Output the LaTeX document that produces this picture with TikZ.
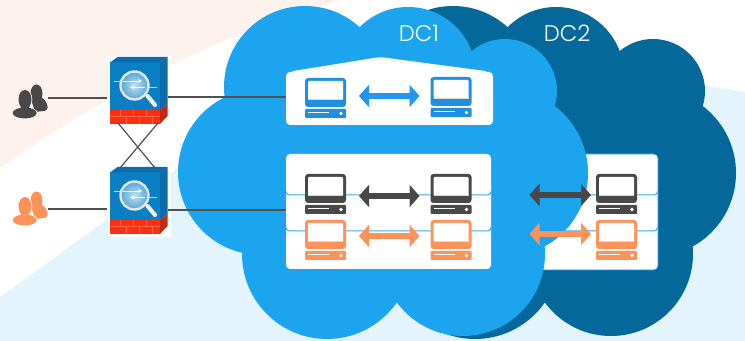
\documentclass[tikz,border=0pt]{standalone}
\usepackage{fontspec}
\setmainfont{Poppins Light}
\usepackage{tikz}
\usetikzlibrary{arrows.meta}
\usepackage{xcolor}

\definecolor{skyDC}{HTML}{1CA5EE}
\definecolor{deepDC}{HTML}{05689B}
\definecolor{paleBlue}{HTML}{E3F4FC}
\definecolor{palePink}{HTML}{FDF2EE}
\definecolor{stripe}{HTML}{3DA9E6}
\definecolor{inkBlue}{HTML}{1F8FE3}
\definecolor{arrowBlue}{HTML}{2196F3}
\definecolor{inkGray}{HTML}{484848}
\definecolor{inkOrange}{HTML}{FF9258}
\definecolor{wireGray}{HTML}{505050}
\definecolor{fwBlue}{HTML}{0A7FC4}
\definecolor{fwTop}{HTML}{0A6CAC}
\definecolor{fwRed}{HTML}{FA3010}
\definecolor{fwSide}{HTML}{C42A10}

\tikzset{
	panel/.style={fill=white,rounded corners=3pt,inner sep=0pt,outer sep=0pt},
	wire/.style={draw=wireGray,line width=0.9pt},
	dcarrow/.style={line width=5pt,{Triangle[width=16.5pt,length=7.5pt]}-{Triangle[width=16.5pt,length=7.5pt]},shorten <=9.75pt,shorten >=8.25pt},
	dclabel/.style={text=white,font=\fontsize{17}{17}\selectfont,inner sep=0pt},
	cloud/.pic={
		\foreach \cx/\cy/\r in {305/87/81,408/75/68,505/91/52,504/173/84,463/254/82,327/254/85,261/172/83}
		\fill[#1] (\cx,\cy) circle (\r);
		\fill[#1] (305,87) -- (408,75) -- (505,91) -- (504,173) -- (463,254) -- (327,254) -- (261,172) -- cycle;
	},
	computer/.pic={
		\node[inner sep=0pt,outer sep=0pt,minimum width=30.75pt,minimum height=30pt] (-body) at (0,20) {};
		\fill[#1,rounded corners=2.25pt] (-20.5,0) rectangle (20.5,29);
		\fill[white,rounded corners=0.75pt] (-17.5,3) rectangle (17.5,22);
		\fill[black!15] (-17.5,21) rectangle (17.5,22);
		\fill[#1,rounded corners=0.75pt] (-20.5,31) rectangle (20.5,40);
		\draw[white,line width=0.7pt] (-17.5,34.5) -- (3.5,34.5);
		\fill[white] (15.5,35.5) circle (1.8);
	},
	firewall/.pic={
		\fill[white] (-30,-41) rectangle (33.5,30);
		\node[inner sep=0pt,outer sep=0pt,minimum width=45.75pt,minimum height=52.5pt] (-body) at (0,0) {};
		\coordinate (-sw) at (-19.5,26);
		\coordinate (-se) at (20.5,26);
		\coordinate (-nw) at (-17.5,-39);
		\coordinate (-ne) at (17.5,-39);
		\fill[fwBlue] (-27.5,-34.5) rectangle (22.5,13);
		\fill[fwTop] (-27.5,-34.5) -- (-20,-40) -- (30,-40) -- (22.5,-34.5) -- cycle;
		\fill[fwTop] (22.5,-34.5) -- (30,-40) -- (30,7) -- (22.5,13) -- cycle;
		\fill[fwRed] (-27.5,13) rectangle (22.5,27);
		\fill[fwSide] (22.5,13) -- (30,7) -- (30,19) -- (22.5,27) -- cycle;
		\draw[fwRed!75!white,line width=0.25pt] (-27.5,19) -- (22.5,19);
		\foreach \bx in {-17,-4,9}
		\draw[fwRed!75!white,line width=0.25pt] (\bx,13) -- (\bx,19) (\bx+6,19) -- (\bx+6,27);
		\draw[white!70!fwBlue,line width=0.7pt] (-23.5,-16) -- (-17,-16);
		\draw[white!70!fwBlue,line width=0.7pt] (11.5,-9.7) -- (19.5,-9.7);
		\draw[white,line width=3pt,line cap=round] (10,-1) -- (17.5,8);
		\shade[inner color=white!75!fwBlue,outer color=fwBlue!70!white,draw=white!90!black,line width=1.8pt] (-3,-11.5) circle (14);
		\draw[white,line width=0.7pt,-{Stealth[length=3pt,width=3pt]}] (-15,-16) -- (4.5,-16);
		\draw[white,line width=0.7pt,-{Stealth[length=3pt,width=3pt]}] (7,-9.7) -- (-7.5,-9.7);
	},
	pics/users/.style 2 args={code={
		\node[inner sep=0pt,outer sep=0pt,minimum width=27pt,minimum height=27pt] (-body) at (0,0) {};
		\fill[#1] (6.5,-4.5) ellipse (6 and 9);
		\fill[#1,rounded corners=2pt] (0,-2) -- (12,-1) -- (17.5,6) -- (17.5,12.5) -- (5,14) -- cycle;
		\fill[#2] (-5,1.5) ellipse (7.3 and 10.3);
		\fill[#2] (-5.3,15) ellipse (12.8 and 6.2);
		\fill[#1] (-5,1.5) ellipse (6.5 and 9.5);
		\fill[#1] (-9,6) rectangle (-1,12);
		\fill[#1] (-5.3,15) ellipse (12 and 5.5);
	}}
}

\begin{document}
\begin{tikzpicture}[x=0.75pt,y=-0.75pt]
	\useasboundingbox (0,0) rectangle (745,341);
	\fill[white] (0,0) rectangle (745,341);
	\fill[palePink] (0,0) -- (340,0) .. controls (230,30) and (120,85) .. (0,168) -- cycle;
	\fill[paleBlue] (0,297) -- (180,167) .. controls (300,90) and (500,50) .. (707,86) -- (745,92) -- (745,341) -- (0,341) -- cycle;

	% DC2 sits behind DC1
	\pic at (148,0) {cloud=deepDC};
	\node[dclabel] (labelB) at (567,33) {DC2};
	\node[panel,draw=inkBlue,line width=0.6pt,minimum width=168pt,minimum height=87pt] (panelC) at (546,212) {};
	\foreach \Ligne in {195,231}
	\draw[stripe,line width=0.75pt] (500,\Ligne) -- (654,\Ligne) arc (90:0:3.5);
	\pic (grayC) at (616.5,174) {computer=inkGray};
	\pic (orangeC) at (616.5,220) {computer=inkOrange};

	\pic at (0,0) {cloud=skyDC};
	\node[dclabel] (labelA) at (419,33) {DC1};
	\node[panel,minimum width=155.25pt,minimum height=39.75pt] (panelA) at (389.5,98.5) {};
	\fill[white,rounded corners=3pt] (290,78) -- (290,71.5) -- (380,57) -- (489,71.5) -- (489,78) -- cycle;
	\node[panel,minimum width=153.75pt,minimum height=86.25pt] (panelB) at (388.5,211.5) {};
	\foreach \Ligne in {195,231}
	\draw[stripe,line width=0.75pt] (286,\Ligne-3.5) arc (180:90:3.5) -- (487.5,\Ligne) arc (90:0:3.5);

	\pic (blueA) at (325.5,78) {computer=inkBlue};
	\pic (blueB) at (451,77) {computer=inkBlue};
	\pic (grayA) at (325.5,174) {computer=inkGray};
	\pic (grayB) at (451,174) {computer=inkGray};
	\pic (orangeA) at (325.5,220) {computer=inkOrange};
	\pic (orangeB) at (451,220) {computer=inkOrange};

	\draw[dcarrow,arrowBlue] ([yshift=1.5pt]blueA-body.east) -- ([yshift=1.5pt]blueA-body.east -| blueB-body.west);
	\draw[dcarrow,inkGray] ([yshift=-1.5pt]grayA-body.east) -- ([yshift=-1.5pt]grayA-body.east -| grayB-body.west);
	\draw[dcarrow,inkOrange] ([yshift=3pt]orangeA-body.east) -- ([yshift=3pt]orangeA-body.east -| orangeB-body.west);
	\draw[dcarrow,inkGray,shorten <=43.5pt,shorten >=3.75pt] ([yshift=-0.75pt]grayB-body.east) -- ([yshift=-0.75pt]grayB-body.east -| grayC-body.west);
	\draw[dcarrow,inkOrange,shorten <=43.5pt,shorten >=3.75pt] ([yshift=4.5pt]orangeB-body.east) -- ([yshift=4.5pt]orangeB-body.east -| orangeC-body.west);

	\pic (userA) at (30,98) {users={inkGray}{palePink}};
	\pic (userB) at (30,205) {users={inkOrange}{white}};
	\pic (fwA) at (137.5,97) {firewall};
	\pic (fwB) at (137.5,207) {firewall};

	\draw[wire] (fwA-sw) -- (fwB-ne);
	\draw[wire] (fwA-se) -- (fwB-nw);
	\draw[wire] (userA-body.east) -- (userA-body.east -| fwA-body.west);
	\draw[wire] ([yshift=-3pt]userB-body.east) -- ([yshift=-3pt]userB-body.east -| fwB-body.west);
	\draw[wire] (fwA-body.east) -- (fwA-body.east -| panelA.west);
	\draw[wire] ([yshift=-2.25pt]fwB-body.east) -- ([yshift=-2.25pt]fwB-body.east -| panelB.west);
\end{tikzpicture}
\end{document}
